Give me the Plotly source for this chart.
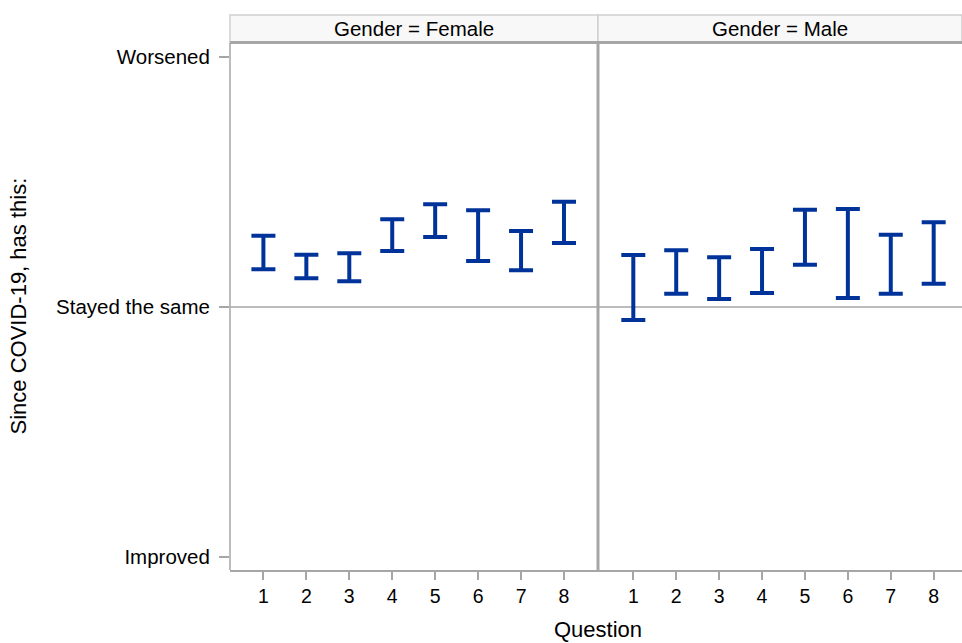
import plotly.graph_objects as go

# Question numbers and the confidence limits of each panel
questions = [1, 2, 3, 4, 5, 6, 7, 8]
female_lower = [0.151, 0.115, 0.103, 0.224, 0.280, 0.184, 0.147, 0.256]
female_upper = [0.285, 0.209, 0.215, 0.351, 0.411, 0.387, 0.304, 0.421]
male_lower = [-0.052, 0.053, 0.032, 0.056, 0.169, 0.036, 0.053, 0.093]
male_upper = [0.208, 0.227, 0.199, 0.232, 0.389, 0.392, 0.289, 0.339]

panel_titles = ["Gender = Female", "Gender = Male"]
y_tick_vals = [-1, 0, 1]
y_tick_text = ["Improved", "Stayed the same", "Worsened"]

BAR_COLOR = "#00339a"
FRAME = "#a6a6a6"
FONT = "Liberation Sans, Arial, sans-serif"
TICK_SIZE = 20.5
TITLE_SIZE = 22

W, H = 962, 643
ML, MT, MB = 230, 43, 73
plot_w = W - ML
plot_h = H - MT - MB
split = (598 - ML) / plot_w
strip_top = 1 + 28 / plot_h

fig = go.Figure()


def add_interval(lower, upper, xaxis, yaxis):
    mid = [(a + b) / 2 for a, b in zip(lower, upper)]
    fig.add_trace(go.Scatter(
        x=questions, y=mid, mode="markers",
        marker=dict(size=1, color="rgba(0,0,0,0)"),
        error_y=dict(type="data", symmetric=False,
                     array=[u - m for u, m in zip(upper, mid)],
                     arrayminus=[m - l for m, l in zip(mid, lower)],
                     color=BAR_COLOR, thickness=4, width=12),
        xaxis=xaxis, yaxis=yaxis, showlegend=False, hoverinfo="skip",
    ))


add_interval(female_lower, female_upper, "x", "y")
add_interval(male_lower, male_upper, "x2", "y2")

axis_common = dict(
    tickmode="array", tickvals=questions, ticktext=[str(q) for q in questions],
    ticks="outside", ticklen=8, tickcolor=FRAME, tickwidth=1.5,
    showgrid=False, zeroline=False, showline=True, linecolor=FRAME, linewidth=1.5,
    tickfont=dict(family=FONT, size=TICK_SIZE - 1, color="#000"),
)
yaxis_common = dict(range=[-1.052, 1.056], showgrid=False, zeroline=False,
                    showline=False, fixedrange=True)

fig.update_layout(
    width=W, height=H,
    margin=dict(l=ML, r=0, t=MT, b=MB, pad=0),
    paper_bgcolor="white", plot_bgcolor="white",
    xaxis=dict(domain=[0, split], range=[0.222, 8.792], mirror=True, **axis_common),
    xaxis2=dict(domain=[split, 1], range=[0.177, 8.66], mirror=True, **axis_common),
    yaxis=dict(anchor="x", tickmode="array", tickvals=y_tick_vals, ticktext=y_tick_text,
               ticks="outside", ticklen=10, tickcolor=FRAME, tickwidth=1.5,
               ticklabelstandoff=5,
               tickfont=dict(family=FONT, size=TICK_SIZE, color="#000"),
               **yaxis_common),
    yaxis2=dict(anchor="x2", showticklabels=False, ticks="", **yaxis_common),
    font=dict(family=FONT, size=TICK_SIZE, color="#000"),
)

shapes = []
# Reference line at "Stayed the same"
shapes.append(dict(type="line", xref="paper", yref="y", x0=0, x1=1, y0=0, y1=0,
                   line=dict(color=FRAME, width=1.5), layer="below"))
# Panel header strips
for x0, x1 in [(0, split), (split, 1)]:
    shapes.append(dict(type="rect", xref="paper", yref="paper", x0=x0, x1=x1,
                       y0=1, y1=strip_top, fillcolor="#f8f8f8",
                       line=dict(color="#cfcfcf", width=1.5), layer="below"))
# Darker line under the strips and left edge of the frame
shapes.append(dict(type="line", xref="paper", yref="paper", x0=0, x1=1, y0=1, y1=1,
                   line=dict(color=FRAME, width=2)))
shapes.append(dict(type="line", xref="paper", yref="paper", x0=0, x1=0, y0=0, y1=1,
                   line=dict(color=FRAME, width=1.5)))
# Separator between the two panels
shapes.append(dict(type="line", xref="paper", yref="paper", x0=split, x1=split, y0=0, y1=1,
                   line=dict(color=FRAME, width=3)))
fig.update_layout(shapes=shapes)

annotations = []
for (x0, x1), title in zip([(0, split), (split, 1)], panel_titles):
    annotations.append(dict(x=(x0 + x1) / 2, y=(1 + strip_top) / 2, xref="paper", yref="paper",
                            text=title, showarrow=False, xanchor="center", yanchor="middle",
                            font=dict(family=FONT, size=TICK_SIZE, color="#000")))
annotations.append(dict(x=(598 - ML) / plot_w, y=-(629 - (H - MB)) / plot_h,
                        xref="paper", yref="paper", text="Question", showarrow=False,
                        xanchor="center", yanchor="middle",
                        font=dict(family=FONT, size=TITLE_SIZE, color="#000")))
annotations.append(dict(x=-(ML - 18) / plot_w, y=0.5, xref="paper", yref="paper",
                        text="Since COVID-19, has this:", showarrow=False, textangle=-90,
                        xanchor="center", yanchor="middle",
                        font=dict(family=FONT, size=TITLE_SIZE, color="#000")))
fig.update_layout(annotations=annotations)

fig.write_html("out.html")
